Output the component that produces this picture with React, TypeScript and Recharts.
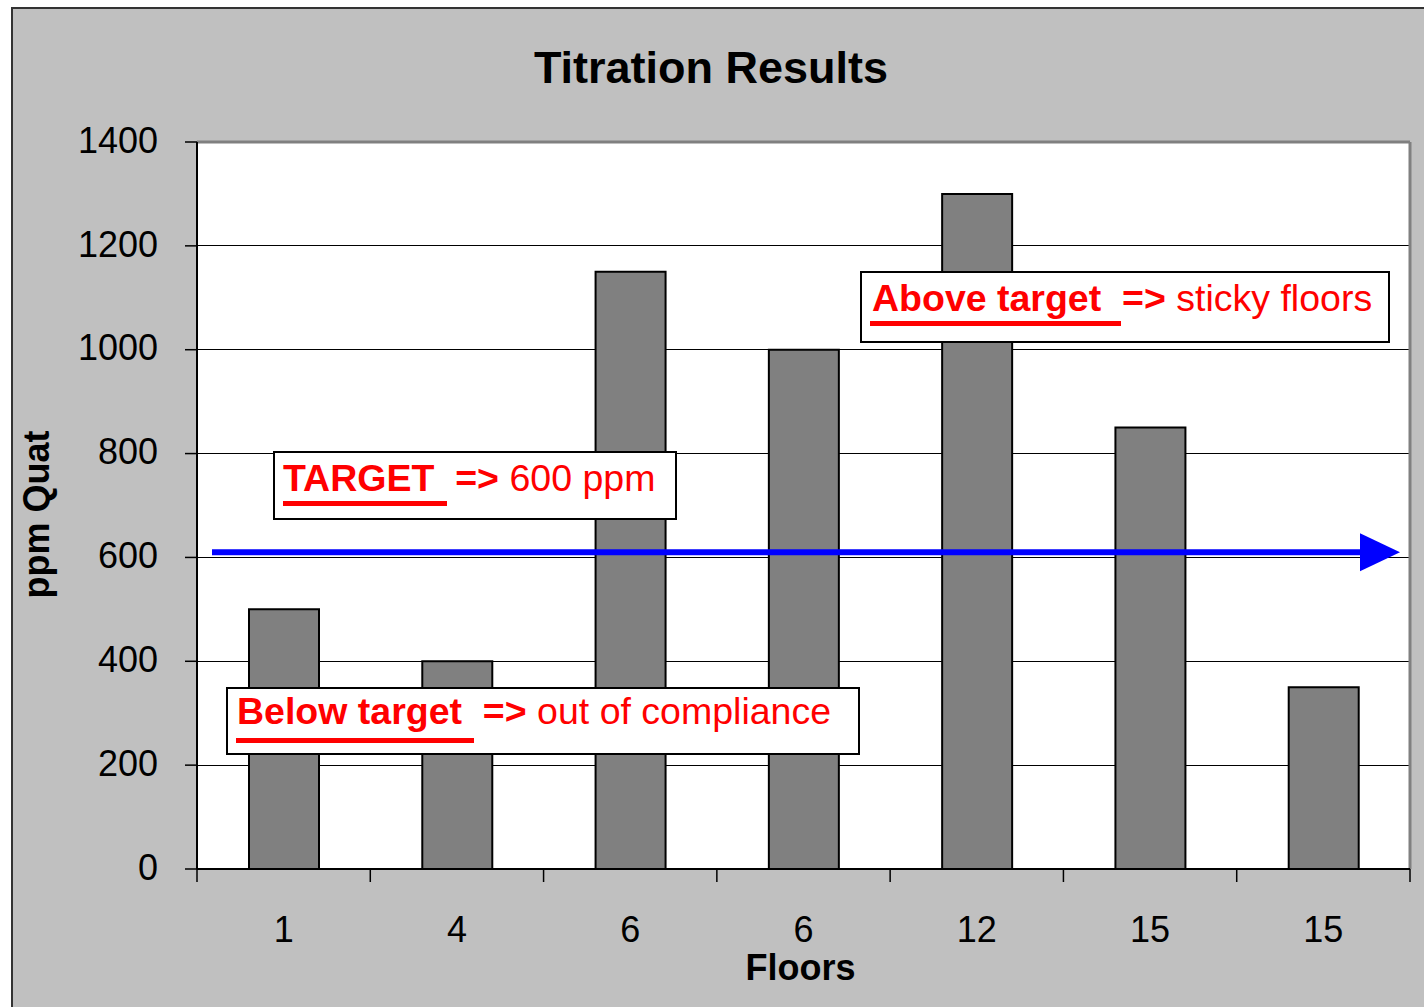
import React from 'react';
import { BarChart, Bar, XAxis, YAxis, CartesianGrid, ReferenceLine } from 'recharts';

// values
const floorLabels = ['1', '4', '6', '6', '12', '15', '15'];
const floorSlots = [1, 2, 3, 4, 5, 6, 7];
const quatPpm = [500, 400, 1150, 1000, 1300, 850, 350];
const yTicks = [0, 200, 400, 600, 800, 1000, 1200, 1400];
const slotEdges = [0.5, 1.5, 2.5, 3.5, 4.5, 5.5, 6.5, 7.5];
const targetArrowLevel = 610;

const noteTexts = [
  { strong: 'TARGET', rest: '600 ppm' },
  { strong: 'Above target', rest: 'sticky floors' },
  { strong: 'Below target', rest: 'out of compliance' },
];

// box: left, top, width, height (page px); underline: left, top, width (relative to box)
const noteLayout = [
  { box: [273, 451, 404, 69], textX: 10, baseline: 41, line: [10, 50, 164] },
  { box: [860, 271, 530, 72], textX: 12, baseline: 41, line: [10, 50, 251] },
  { box: [226, 687, 634, 68], textX: 11, baseline: 38, line: [10, 51, 238] },
];

const data = floorSlots.map((slot, i) => ({ slot, floor: floorLabels[i], ppm: quatPpm[i] }));
const xTicks = [...slotEdges, ...floorSlots].sort((a, b) => a - b);

const FONT = "'Liberation Sans', Arial, Helvetica, sans-serif";
const NOTE_SIZE = 37.5;
// baseline distance from the top of a line box whose line-height equals the font size
const baselineIn = (size: number) => (size - 1.117 * size) / 2 + 0.905 * size;

// integer ticks carry the floor label, half ticks are the category dividers
const FloorTick = (props: any) => {
  const { x, y, payload } = props;
  const v = payload.value;
  if (Number.isInteger(v)) {
    return (
      <text x={x} y={y + 73} textAnchor="middle" fontSize={36} fill="#000">
        {floorLabels[v - 1]}
      </text>
    );
  }
  return <line x1={x} y1={y} x2={x} y2={y + 13} stroke="#000" strokeWidth={1.5} />;
};

const TargetArrow = (props: any) => {
  const { x1, y1, x2 } = props;
  const start = x1 + 15;
  const tip = x2 - 10;
  const base = tip - 40;
  return (
    <g>
      <line x1={start} y1={y1} x2={base + 2} y2={y1} stroke="#0000FF" strokeWidth={6} />
      <polygon points={`${base},${y1 - 19} ${tip},${y1} ${base},${y1 + 19}`} fill="#0000FF" />
    </g>
  );
};

const renderYTitle = (props: any) => {
  const vb = props.viewBox;
  const cx = vb.x + 38;
  const cy = vb.y + vb.height / 2 + 9;
  return (
    <text x={cx} y={cy} transform={`rotate(-90 ${cx} ${cy})`} textAnchor="middle"
      fontSize={36} fontWeight="bold" fill="#000">
      ppm Quat
    </text>
  );
};

const renderXTitle = (props: any) => {
  const vb = props.viewBox;
  return (
    <text x={vb.x + vb.width / 2 - 3} y={vb.y + 111} textAnchor="middle"
      fontSize={36} fontWeight="bold" fill="#000">
      Floors
    </text>
  );
};

const Note = ({ idx }: { idx: number }) => {
  const t = noteTexts[idx];
  const l = noteLayout[idx];
  const [left, top, width, height] = l.box;
  const [lx, ly, lw] = l.line;
  return (
    <div style={{
      position: 'absolute', left, top, width, height, boxSizing: 'border-box',
      border: '2px solid #000', background: '#fff',
    }}>
      <div style={{
        position: 'absolute', left: l.textX - 2, top: l.baseline - baselineIn(NOTE_SIZE) - 2,
        whiteSpace: 'pre', fontSize: NOTE_SIZE, lineHeight: `${NOTE_SIZE}px`, color: '#FF0000',
      }}>
        <b>{t.strong + '  =>'}</b>{' ' + t.rest}
      </div>
      <div style={{
        position: 'absolute', left: lx - 2, top: ly - 2, width: lw, height: 5, background: '#FF0000',
      }} />
    </div>
  );
};

export default function App() {
  return (
    <div style={{
      position: 'fixed', left: 0, top: 0, width: 1424, height: 1007, overflow: 'hidden',
      fontFamily: FONT, background: '#fff',
    }}>
      <div style={{
        position: 'absolute', left: 11, top: 7, width: 1440, height: 1020,
        border: '2px solid #333', background: '#C0C0C0',
      }} />
      <div style={{ position: 'absolute', left: 0, top: 0 }}>
        <BarChart width={1424} height={1007} data={data}
          margin={{ top: 142, right: 14, bottom: 18, left: 11 }}>
          <CartesianGrid vertical={false} stroke="#000" strokeWidth={1} fill="#fff"
            shapeRendering="crispEdges" />
          <XAxis dataKey="slot" type="number" domain={[0.5, 7.5]} ticks={xTicks} interval={0}
            height={120} tickLine={false} tickSize={0} tickMargin={0}
            axisLine={{ stroke: '#000', strokeWidth: 2 }} tick={<FloorTick />}
            label={renderXTitle} />
          <YAxis domain={[0, 1400]} ticks={yTicks} width={186} tickSize={12} tickMargin={27}
            axisLine={{ stroke: '#000', strokeWidth: 2 }} tickLine={{ stroke: '#000', strokeWidth: 1.5 }}
            tick={{ fontSize: 36, fill: '#000', dy: -2 }} label={renderYTitle} />
          <ReferenceLine y={1400} stroke="#808080" strokeWidth={3} />
          <ReferenceLine x={7.5} stroke="#808080" strokeWidth={3} />
          <Bar dataKey="ppm" barSize={70} fill="#808080" stroke="#000" strokeWidth={2}
            isAnimationActive={false} />
          <ReferenceLine y={targetArrowLevel} shape={TargetArrow} />
        </BarChart>
      </div>
      <div style={{
        position: 'absolute', left: 0, top: 45, width: 1422, textAlign: 'center',
        fontSize: 45, lineHeight: '45px', fontWeight: 'bold', color: '#000',
      }}>
        Titration Results
      </div>
      <Note idx={0} />
      <Note idx={1} />
      <Note idx={2} />
    </div>
  );
}
